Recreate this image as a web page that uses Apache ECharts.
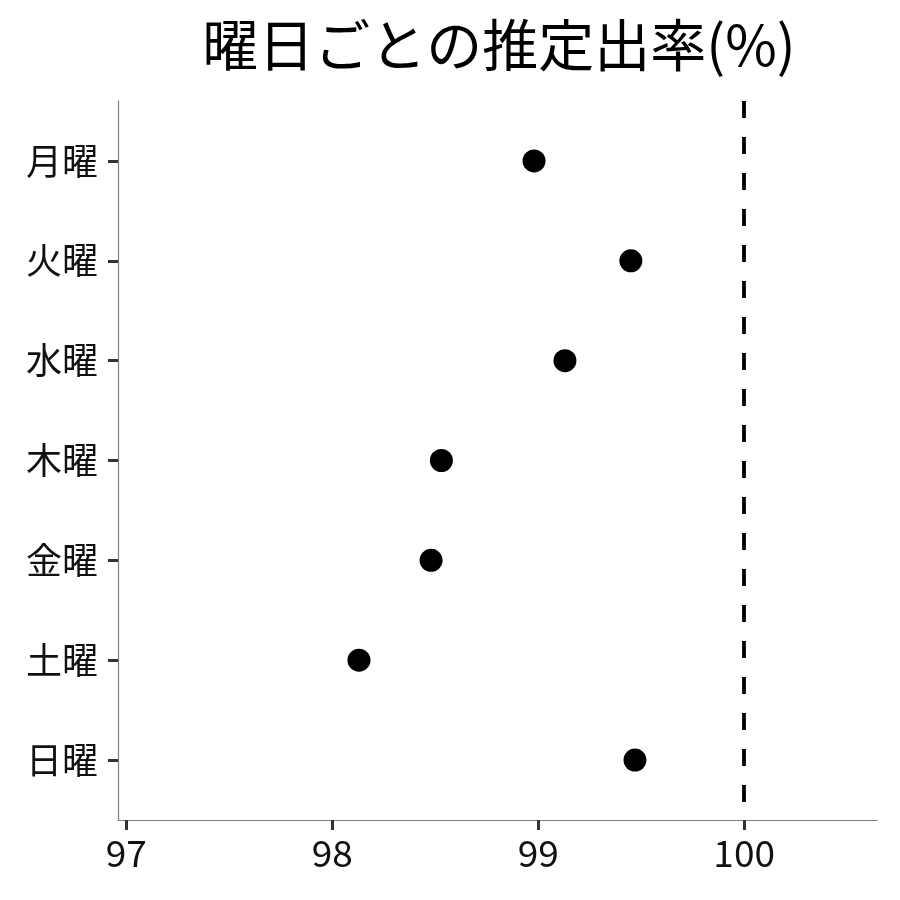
<!DOCTYPE html>
<html>
<head>
<meta charset="utf-8">
<script src="https://cdn.jsdelivr.net/npm/echarts@6/dist/echarts.min.js"></script>
<style>
html,body{margin:0;padding:0;background:#fff;}
#chart{width:900px;height:900px;}
</style>
</head>
<body>
<div id="chart"></div>
<script>
var titleText = '曜日ごとの推定出率(%)';
var days = ['月曜', '火曜', '水曜', '木曜', '金曜', '土曜', '日曜'];
var rates = [98.98, 99.45, 99.13, 98.53, 98.48, 98.13, 99.47];
var xTicks = [97, 98, 99, 100];
var refValue = 100;

var FONT = '"Noto Sans CJK JP", "Noto Sans", sans-serif';
var pts = days.map(function (d, i) { return [rates[i], i + 1]; });
var yPositions = days.map(function (d, i) { return i + 1; });

var chart = echarts.init(document.getElementById('chart'), null, { renderer: 'canvas' });
chart.setOption({
  animation: false,
  backgroundColor: '#fff',
  title: {
    text: titleText,
    left: 494, top: 12, textAlign: 'center',
    textStyle: { fontFamily: FONT, fontSize: 56, fontWeight: 'normal', color: '#000' }
  },
  grid: { left: 118, right: 23, top: 101, bottom: 80, containLabel: false },
  xAxis: {
    type: 'value', min: 96.96, max: 100.645,
    splitLine: { show: false },
    axisLine: { show: true, onZero: false, lineStyle: { color: '#7f7f7f', width: 1.2 } },
    axisTick: { show: true, customValues: xTicks, length: 10, lineStyle: { color: '#333', width: 3 } },
    axisLabel: { customValues: xTicks, margin: 14, fontFamily: FONT, fontSize: 37, color: '#111' }
  },
  yAxis: {
    type: 'value', inverse: true, min: 0.4, max: 7.6,
    splitLine: { show: false },
    axisLine: { show: true, onZero: false, lineStyle: { color: '#7f7f7f', width: 1.2 } },
    axisTick: { show: true, customValues: yPositions, length: 10, lineStyle: { color: '#333', width: 3 } },
    axisLabel: {
      customValues: yPositions, margin: 20, fontFamily: FONT, fontSize: 36, color: '#111',
      formatter: function (v) { return days[Math.round(v) - 1] || ''; }
    }
  },
  series: [{
    type: 'scatter',
    data: pts,
    symbol: 'circle',
    symbolSize: 23,
    itemStyle: { color: '#000', opacity: 1 },
    markLine: {
      silent: true,
      symbol: ['none', 'none'],
      label: { show: false },
      lineStyle: { color: '#000', width: 3.8, type: [17, 19] },
      data: [{ xAxis: refValue }]
    }
  }]
});
</script>
</body>
</html>
